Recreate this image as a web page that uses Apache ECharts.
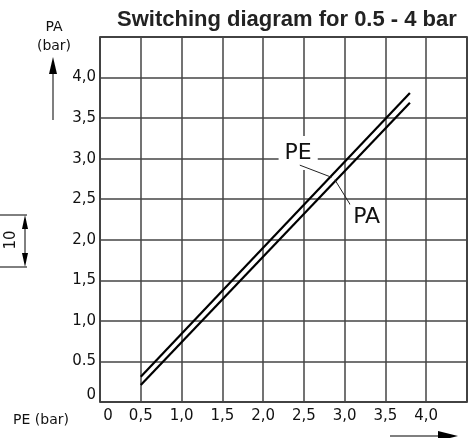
<!DOCTYPE html>
<html><head><meta charset="utf-8">
<script src="https://cdn.jsdelivr.net/npm/echarts@6/dist/echarts.min.js"></script>
<style>html,body{margin:0;padding:0;background:#fff}#c{width:476px;height:438px}</style>
</head><body><div id="c"></div>
<script>
// ---- data ----
const peValues = [0.5, 3.8];
const paUpper = [0.31, 3.81];
const paLower = [0.21, 3.69];
const xTickLabels = ['0','0,5','1,0','1,5','2,0','2,5','3,0','3,5','4,0',''];
const yTickLabels = ['0','0.5','1,0','1,5','2,0','2,5','3,0','3,5','4,0',''];
const titleText = 'Switching diagram for 0.5 - 4 bar';
// annotation anchors in data coordinates
const peLabelPos = [2.43, 3.07];
const peLeader = [[2.45, 2.92], [2.84, 2.77]];
const paLeader = [[2.88, 2.74], [3.07, 2.43]];
const paLabelPos = [3.27, 2.28];

const FONT = 'DejaVu Sans';
const chart = echarts.init(document.getElementById('c'), null, {renderer: 'canvas'});

function pairs(xs, ys) { return xs.map((x, i) => [x, ys[i]]); }

chart.setOption({
  animation: false,
  backgroundColor: '#fff',
  title: {
    text: titleText, left: 117, top: 9, padding: 0,
    textStyle: {fontFamily: 'Liberation Sans', fontWeight: 'bold', fontSize: 22, color: '#222'}
  },
  grid: {left: 100, right: 9, top: 37, bottom: 36, show: true, borderColor: '#000', borderWidth: 1.5, backgroundColor: 'transparent'},
  xAxis: {
    type: 'value', min: 0, max: 4.5, interval: 0.5,
    axisLine: {show: false}, axisTick: {show: false},
    splitLine: {show: true, lineStyle: {color: '#444', width: 1.5}},
    axisLabel: {
      margin: 7, color: '#111', fontFamily: FONT, fontSize: 15,
      formatter: v => { const i = Math.round(v / 0.5); return i === 0 ? '{z|' + xTickLabels[0] + '}' : xTickLabels[i]; },
      rich: {z: {padding: [0, 0, 0, 16], fontFamily: FONT, fontSize: 15, color: '#111'}}
    }
  },
  yAxis: {
    type: 'value', min: 0, max: 4.5, interval: 0.5,
    axisLine: {show: false}, axisTick: {show: false},
    splitLine: {show: true, lineStyle: {color: '#444', width: 1.5}},
    axisLabel: {
      margin: 4, color: '#111', fontFamily: FONT, fontSize: 15,
      formatter: v => { const i = Math.round(v / 0.5); return i === 0 ? '{z|' + yTickLabels[0] + '}' : yTickLabels[i]; },
      rich: {z: {padding: [0, 0, 14, 0], fontFamily: FONT, fontSize: 15, color: '#111'}}
    }
  },
  series: [
    {name: 'PE', type: 'line', data: pairs(peValues, paUpper), showSymbol: false, lineStyle: {color: '#000', width: 2.2}, z: 5},
    {name: 'PA', type: 'line', data: pairs(peValues, paLower), showSymbol: false, lineStyle: {color: '#000', width: 2.2}, z: 5}
  ]
});

const P = p => chart.convertToPixel({gridIndex: 0}, p);
const pe1 = P(peLeader[0]), pe2 = P(peLeader[1]);
const pa1 = P(paLeader[0]), pa2 = P(paLeader[1]);
const peL = P(peLabelPos), paL = P(paLabelPos);

chart.setOption({
  graphic: [
    // PA (bar) axis caption and arrow
    {type: 'text', x: 54, y: 27, style: {text: 'PA', font: '14px "DejaVu Sans"', fill: '#111', align: 'center', verticalAlign: 'middle'}},
    {type: 'text', x: 54, y: 46, style: {text: '(bar)', font: '14px "DejaVu Sans"', fill: '#111', align: 'center', verticalAlign: 'middle'}},
    {type: 'line', shape: {x1: 53, y1: 70, x2: 53, y2: 120}, style: {stroke: '#555', lineWidth: 1.5}},
    {type: 'polygon', shape: {points: [[53, 57], [49, 74], [57, 74]]}, style: {fill: '#000'}},
    // PE (bar) caption and arrow
    {type: 'text', x: 41, y: 420, style: {text: 'PE (bar)', font: '14px "DejaVu Sans"', fill: '#111', align: 'center', verticalAlign: 'middle'}},
    {type: 'line', shape: {x1: 390, y1: 436, x2: 445, y2: 436}, style: {stroke: '#555', lineWidth: 1.5}},
    {type: 'polygon', shape: {points: [[458, 436], [438, 431], [438, 441]]}, style: {fill: '#000'}},
    // "10" dimension marker
    {type: 'line', shape: {x1: 0, y1: 215, x2: 27, y2: 215}, style: {stroke: '#000', lineWidth: 1}},
    {type: 'line', shape: {x1: 0, y1: 267, x2: 27, y2: 267}, style: {stroke: '#000', lineWidth: 1}},
    {type: 'line', shape: {x1: 25, y1: 220, x2: 25, y2: 262}, style: {stroke: '#000', lineWidth: 1}},
    {type: 'polygon', shape: {points: [[25, 215], [22, 229], [28, 229]]}, style: {fill: '#000'}},
    {type: 'polygon', shape: {points: [[25, 267], [22, 253], [28, 253]]}, style: {fill: '#000'}},
    {type: 'text', x: 11, y: 240, rotation: Math.PI / 2, style: {text: '10', font: '15px "DejaVu Sans"', fill: '#111', align: 'center', verticalAlign: 'middle'}},
    // callouts
    {type: 'text', x: peL[0], y: peL[1], z: 10, style: {text: 'PE', font: '22px "DejaVu Sans"', fill: '#111', align: 'center', verticalAlign: 'middle', backgroundColor: '#fff', padding: [6, 6]}},
    {type: 'line', z: 10, shape: {x1: pe1[0], y1: pe1[1], x2: pe2[0], y2: pe2[1]}, style: {stroke: '#222', lineWidth: 1}},
    {type: 'line', z: 10, shape: {x1: pa1[0], y1: pa1[1], x2: pa2[0], y2: pa2[1]}, style: {stroke: '#222', lineWidth: 1}},
    {type: 'text', x: paL[0], y: paL[1], z: 10, style: {text: 'PA', font: '22px "DejaVu Sans"', fill: '#111', align: 'center', verticalAlign: 'middle', backgroundColor: '#fff', padding: [2, 3]}}
  ]
});
</script>
</body></html>
